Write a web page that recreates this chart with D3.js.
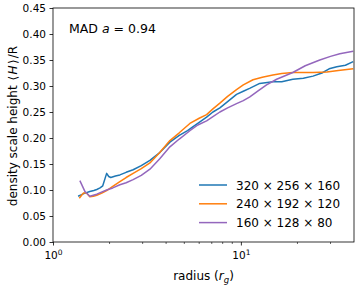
<!DOCTYPE html>
<html>
<head>
<meta charset="utf-8">
<script src="https://cdn.jsdelivr.net/npm/d3@7"></script>
<style>
  body { margin: 0; background: #fff; }
  text { font-family: "DejaVu Sans", sans-serif; fill: #000; }
</style>
</head>
<body>
<svg id="chart" width="358" height="285"></svg>
<script>
// radius (r_g) and <H>/R for each run
let blueR = [1.36,1.42,1.48,1.57,1.65,1.71,1.78,1.84,1.93,1.98,2.03,2.15,2.27,2.45,2.67,2.95,3.28,3.7,4.19,4.7,5.2,5.57,6.0,6.57,7.1,7.73,8.5,9.48,10.3,11.2,12.6,14.8,16.5,18.9,21.5,24.2,27,29.5,32.4,36,39.6]
let blueH = [0.088,0.091,0.094,0.097,0.099,0.101,0.104,0.108,0.132,0.126,0.124,0.127,0.129,0.134,0.139,0.147,0.157,0.172,0.192,0.205,0.214,0.222,0.230,0.240,0.250,0.258,0.270,0.284,0.290,0.296,0.305,0.308,0.308,0.313,0.315,0.319,0.325,0.333,0.337,0.340,0.347]

let orangeR = [1.38,1.42,1.45,1.51,1.57,1.64,1.71,1.82,1.93,2.08,2.27,2.45,2.67,2.95,3.28,3.7,4.19,4.7,5.35,6.0,6.57,7.1,7.73,8.5,9.48,10.3,11.6,13,14.8,16.5,18.9,21.5,24.2,28.7,33,39.6]
let orangeH = [0.084,0.090,0.094,0.094,0.087,0.088,0.090,0.094,0.099,0.107,0.116,0.124,0.132,0.141,0.152,0.172,0.195,0.210,0.228,0.238,0.245,0.256,0.267,0.280,0.293,0.302,0.312,0.317,0.321,0.324,0.326,0.326,0.326,0.327,0.330,0.333]

let purpleR = [1.39,1.48,1.57,1.71,1.93,2.08,2.27,2.45,2.67,2.95,3.28,3.7,4.19,4.7,5.35,5.9,6.57,7.1,7.73,8.5,9.48,10.3,11.16,12.4,13.7,15.5,18.9,22,26.3,30,33.6,39.6]
let purpleH = [0.118,0.097,0.088,0.092,0.100,0.104,0.110,0.114,0.120,0.128,0.140,0.160,0.183,0.198,0.214,0.225,0.233,0.241,0.250,0.258,0.266,0.272,0.279,0.291,0.302,0.313,0.326,0.339,0.350,0.357,0.362,0.367]

let labels = ["320 \u00d7 256 \u00d7 160", "240 \u00d7 192 \u00d7 120", "160 \u00d7 128 \u00d7 80"]
let colors = ["#1f77b4", "#ff7f0e", "#9467bd"]
let yTicks = [0,0.05,0.1,0.15,0.2,0.25,0.3,0.35,0.4,0.45]
let xMinor = [2,3,4,5,6,7,8,9,20,30,40]

let mLeft = 53, mRight = 354, mTop = 8, mBottom = 242

let svg = d3.select('#chart')

let x = d3.scaleLog().domain([1, 40]).range([mLeft, mRight])
let y = d3.scaleLinear().domain([0, 0.45]).range([mBottom, mTop])

let series = [
  blueR.map((r,i) => [r, blueH[i]]),
  orangeR.map((r,i) => [r, orangeH[i]]),
  purpleR.map((r,i) => [r, purpleH[i]])
]

let line = d3.line().x(d => x(d[0])).y(d => y(d[1]))

svg.append('g').selectAll('path')
  .data(series)
  .enter()
  .append('path')
    .attr('d', line)
    .attr('fill', 'none')
    .attr('stroke', (d,i) => colors[i])
    .attr('stroke-width', 1.5)
    .attr('stroke-linejoin', 'round')

// y axis
let yAxis = svg.append('g')
  .attr('transform', `translate(${mLeft},0)`)
  .call(d3.axisLeft(y).tickValues(yTicks).tickFormat(d3.format('.2f')).tickSize(3.5).tickPadding(3.5))
yAxis.select('.domain').remove()
yAxis.selectAll('text').style('font-size', '10.5px').style('font-family', '"DejaVu Sans"')
yAxis.selectAll('line').attr('stroke-width', 0.8)

// x axis, log ticks
let xAxis = svg.append('g')
  .attr('transform', `translate(0,${mBottom})`)
  .call(d3.axisBottom(x).tickValues([1, 10]).tickFormat('').tickSize(3.5))
xAxis.select('.domain').remove()
xAxis.selectAll('line').attr('stroke-width', 0.8)
xAxis.selectAll('.tick').each(function(d) {
  let t = d3.select(this).append('text')
    .attr('y', 17).attr('text-anchor', 'middle')
    .style('font-size', '10.5px')
  t.append('tspan').text('10')
  t.append('tspan').attr('dy', -4.5).style('font-size', '7.5px').text(d === 1 ? '0' : '1')
})
svg.append('g').selectAll('line')
  .data(xMinor.filter(d => x(d) < mRight - 0.5))
  .enter()
  .append('line')
    .attr('x1', d => x(d)).attr('x2', d => x(d))
    .attr('y1', mBottom).attr('y2', mBottom + 2)
    .attr('stroke', '#000').attr('stroke-width', 0.6)

// frame
svg.append('rect')
  .attr('x', mLeft).attr('y', mTop)
  .attr('width', mRight - mLeft).attr('height', mBottom - mTop)
  .attr('fill', 'none').attr('stroke', '#000').attr('stroke-width', 0.8)

// axis labels
let xl = svg.append('text')
  .attr('x', (mLeft + mRight) / 2).attr('y', 280)
  .attr('text-anchor', 'middle').style('font-size', '12px')
xl.append('tspan').text('radius (')
xl.append('tspan').style('font-style', 'italic').text('r')
xl.append('tspan').attr('dy', 2.5).style('font-style', 'italic').style('font-size', '8.5px').text('g')
xl.append('tspan').attr('dy', -2.5).text(')')

let yl = svg.append('text')
  .attr('transform', `translate(17,${(mTop + mBottom) / 2 + 1}) rotate(-90)`)
  .attr('text-anchor', 'middle').style('font-size', '12px')
yl.append('tspan').text('density scale height ')
yl.append('tspan').attr('dx', 1).text('\u27e8')
yl.append('tspan').attr('dx', 1.5).style('font-style', 'italic').text('H')
yl.append('tspan').attr('dx', 1.5).text('\u27e9')
yl.append('tspan').attr('dx', 1).text('/R')

// annotation
let ann = svg.append('text')
  .attr('x', 69).attr('y', 33).style('font-size', '12.5px')
ann.append('tspan').text('MAD ')
ann.append('tspan').style('font-style', 'italic').text('a')
ann.append('tspan').text(' = 0.94')

// legend
let leg = svg.append('g').selectAll('g')
  .data(labels)
  .enter()
  .append('g')
    .attr('transform', (d,i) => `translate(199,${185 + i * 18.8})`)
leg.append('line')
  .attr('x1', 0).attr('x2', 28).attr('y1', 0).attr('y2', 0)
  .attr('stroke', (d,i) => colors[i]).attr('stroke-width', 1.5)
leg.append('text')
  .attr('x', 37).attr('y', 4.5).style('font-size', '12px')
  .text(d => d)
</script>
</body>
</html>
